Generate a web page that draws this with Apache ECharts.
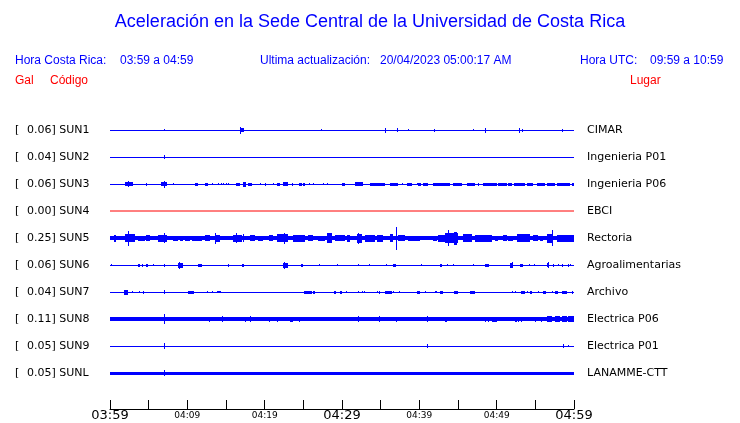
<!DOCTYPE html>
<html>
<head>
<meta charset="utf-8">
<script src="https://cdn.jsdelivr.net/npm/echarts@6/dist/echarts.min.js"></script>
<style>html,body{margin:0;padding:0;background:#fff}#c{width:740px;height:423px}</style>
</head>
<body>
<div id="c"></div>
<script>
// ---------------- DATA ----------------
const CODES  = ['SUN1','SUN2','SUN3','SUN4','SUN5','SUN6','SUN7','SUN8','SUN9','SUNL'];
const PEAKS  = ['0.06','0.04','0.06','0.00','0.25','0.06','0.04','0.11','0.05','0.05'];
const PLACES = ['CIMAR','Ingenieria P01','Ingenieria P06','EBCI','Rectoria','Agroalimentarias','Archivo','Electrica P06','Electrica P01','LANAMME-CTT'];
// background (noise) half-amplitude of each trace, relative units
const NOISE  = [0.5,0.5,0.5,0.5,2,0.5,0.5,2,0.5,1.5];
// time axis (minutes after 03:59)
const TICK_MINUTES = [0,10,20,30,40,50,60];
const TICK_TEXT    = ['03:59','04:09','04:19','04:29','04:39','04:49','04:59'];
const BIG_TICKS    = [0,30,60];
// bursts: [start minute, end minute, half-amplitude (relative units)]
const SUN1 = [[6.98,6.98,1],[16.81,16.81,3.5],[16.81,17.33,2],[27.28,27.28,1],[35.56,35.56,2.5],[37.11,37.11,2],[38.53,38.53,1],
  [41.90,41.90,1.5],[46.94,46.94,1],[48.49,48.49,2.5],[52.89,52.89,2.5],[53.28,53.41,1.5],[58.45,58.45,1.5]];
const SUN2 = [[6.98,7.11,2]];
const SUN3 = [[1.94,2.97,2],[2.33,2.45,3],[4.66,4.66,1.5],[6.59,7.37,2],[6.98,6.98,3.5],[8.15,8.15,1],[10.99,11.38,1.5],[12.28,12.67,1.5],
  [13.19,13.19,1],[13.97,13.97,1],[14.35,14.35,1],[14.61,14.61,1],[15.00,15.00,1],[15.26,15.26,1],[16.29,16.81,1.5],[17.20,17.59,2.5],
  [17.84,18.36,1.5],[19.40,19.40,1],[20.04,20.04,1.5],[21.08,21.08,1],[21.59,21.98,1.5],[22.37,23.02,2],[23.53,23.53,1.5],[24.44,24.83,1.5],
  [24.96,25.22,1.5],[25.73,25.73,1],[26.25,26.25,1],[27.54,27.54,1],[28.06,28.06,1],[30.00,30.39,1.5],[31.68,32.72,2],[33.62,35.56,1.5],
  [36.21,37.24,1.5],[37.76,37.76,1],[38.40,39.05,1.5],[39.70,39.70,1],[39.83,40.22,1.5],[40.47,41.12,1.5],[41.77,43.97,1.5],[44.35,45.52,1.5],
  [46.16,47.20,1.5],[47.59,47.59,1.5],[48.23,50.04,1.5],[50.17,51.34,1.5],[51.47,51.98,1.5],[52.24,53.66,1.5],[53.92,54.70,1.5],
  [55.22,56.25,1.5],[56.51,57.54,1.5],[57.80,59.48,1.5],[59.74,60,1.5]];
const SUN4 = [];
const SUN5 = [[0.52,0.78,3.5],[1.94,3.23,4],[2.33,2.33,7.5],[3.62,4.53,2.5],[4.66,5.17,3],[6.21,7.37,3.5],[6.98,6.98,5],[8.15,8.79,2.5],
  [9.05,9.44,2.5],[9.70,10.34,2.5],[10.60,11.90,2.5],[12.28,12.93,3],[13.58,14.22,3.5],[13.58,13.58,5.5],[15.90,17.07,3.5],[16.29,16.29,5],
  [17.20,17.20,4],[18.10,18.75,3],[19.14,19.78,2.5],[20.56,21.08,3],[21.59,23.02,4],[22.50,22.50,5.5],[23.66,25.22,3.5],[25.60,26.25,3],
  [26.90,27.80,2.5],[28.06,28.71,5],[29.09,30.39,3],[30.65,31.03,3.5],[31.94,32.59,4.5],[32.07,32.07,5.5],[32.97,34.27,3.5],[34.53,35.30,3.5],
  [36.21,36.59,4],[36.98,36.98,11.5],[37.24,38.14,3],[38.53,39.70,2.5],[39.44,40.09,2.5],[40.34,40.99,2],[41.77,42.28,2.5],[42.41,43.32,3.5],
  [43.32,45.00,5],[43.71,43.71,8],[44.48,44.87,6.5],[45.65,46.81,4],[47.20,49.40,3.5],[49.78,50.17,2.5],[50.82,51.34,3],[51.47,52.11,2.5],
  [52.63,54.31,4],[54.70,55.34,3],[55.60,55.99,2.5],[56.51,57.28,4.5],[57.16,57.16,8],[57.80,60,3.5]];
const SUN6 = [[0.13,0.13,1],[3.62,3.88,1.5],[4.14,4.14,1.5],[4.66,4.91,1.5],[5.56,5.56,1],[6.98,6.98,1.5],[8.79,9.44,2.5],[8.92,8.92,3.5],
  [11.38,11.90,1.5],[15.26,15.26,1.5],[17.07,17.33,1.5],[22.37,23.02,2.5],[22.50,22.50,3.5],[24.70,24.96,1.5],[27.03,27.03,1],[29.35,29.35,1],
  [32.07,32.07,1],[33.49,33.49,1],[35.69,35.69,1],[36.59,36.98,1.5],[40.22,40.22,1],[42.67,42.93,1.5],[43.58,43.58,1],[44.35,44.35,1],
  [46.94,46.94,1],[48.49,49.01,1.5],[51.72,52.11,2.5],[51.98,51.98,3],[53.02,53.41,1.5],[54.18,54.18,1],[54.83,54.83,1],[56.51,56.64,2],
  [56.64,56.64,3],[57.28,57.28,1.5],[57.93,57.93,1],[58.45,58.45,1.5],[59.22,59.22,1.5],[59.48,59.48,1]];
const SUN7 = [[1.81,2.33,2.5],[2.84,2.84,1],[3.75,3.75,1],[4.27,4.40,1.5],[6.98,6.98,2],[10.09,10.86,1.5],[12.54,12.54,1],[13.19,13.19,1],
  [13.84,14.35,1],[25.09,26.12,1.5],[26.25,26.51,1.5],[28.97,29.22,1.5],[29.74,30.00,1.5],[30.52,30.52,1],[32.07,32.07,1],[32.59,32.59,1],
  [32.84,32.84,1],[34.53,34.53,1],[34.78,34.78,1.5],[35.56,36.47,1.5],[36.59,36.59,1],[37.37,37.37,1],[39.70,40.09,1.5],[40.73,40.73,1],
  [42.03,42.28,1],[42.67,43.06,1.5],[44.48,45.00,1.5],[46.55,47.20,1.5],[51.98,51.98,1],[52.37,52.37,1],[53.15,53.66,1.5],[53.92,53.92,1],
  [54.31,54.57,1.5],[55.34,55.34,1],[55.99,56.38,1.5],[57.16,57.16,1],[57.54,57.93,1.5],[58.45,59.10,1.5],[59.74,59.74,1.5]];
const SUN8 = [[6.98,6.98,5],[12.80,12.80,2.5],[14.48,14.48,3],[17.46,17.46,2.5],[18.10,18.10,3],[20.56,20.56,2.5],[21.59,21.59,2.5],
  [23.28,23.66,2.5],[24.44,24.44,2.5],[25.60,25.60,2],[32.07,32.07,3],[34.78,34.78,3],[36.98,36.98,2.5],[40.99,40.99,3],[43.32,43.58,2.5],
  [46.81,46.81,1.5],[48.49,48.49,2.5],[48.88,48.88,2.5],[49.40,50.04,2.5],[50.43,50.43,2],[52.37,52.63,2.5],[52.76,52.76,2.5],
  [53.15,53.15,2.5],[54.05,54.05,2],[54.96,54.96,2.5],[55.73,55.73,2.5],[56.51,57.16,3],[57.54,58.19,3],[58.45,59.10,3],[59.22,60,3]];
const SUN9 = [[6.98,6.98,3],[40.99,40.99,2],[58.58,58.71,2],[59.22,59.22,1]];
const SUNL = [[6.98,6.98,3],[41.38,41.38,1.5]];
const EVENTS = [SUN1,SUN2,SUN3,SUN4,SUN5,SUN6,SUN7,SUN8,SUN9,SUNL];

// ---------------- STYLE ----------------
const TRACE_COLORS = ['#0000ff','#0000ff','#0000ff','#ff0000','#0000ff','#0000ff','#0000ff','#0000ff','#0000ff','#0000ff'];
const AMP_UNIT = 1/27;   // relative amplitude unit -> trace spacing units
const BLUE = '#0000ff', RED = '#ff0000';

const chart = echarts.init(document.getElementById('c'), null, {renderer:'canvas'});

function makeRender(color){
  return function(params, api){
    const t = api.value(3);
    const s = api.coord([api.value(0), t]);
    const e = api.coord([api.value(1), t]);
    const h = Math.abs(api.size([0, api.value(2)*AMP_UNIT])[1]);
    const x0 = Math.round(s[0] + 0.01);
    const x1 = Math.max(x0+1, Math.round(e[0] + 0.01));
    const y0 = Math.round(s[1] - h + 0.01);
    const y1 = Math.max(y0+1, Math.round(s[1] + h + 0.01));
    return {type:'rect', shape:{x:x0, y:y0, width:x1-x0, height:y1-y0}, style:{fill: color}};
  };
}

const series = [];
CODES.forEach((code, i) => {
  if (EVENTS[i].length === 0) {
    // flat (no signal) trace: a plain line through the library's line series
    series.push({
      type:'line', name:code, data:[[0, i], [60, i]], symbol:'none', silent:true, z:10,
      lineStyle:{color: TRACE_COLORS[i], width:1}, itemStyle:{color: TRACE_COLORS[i]}
    });
    return;
  }
  const data = [[0, 60, NOISE[i], i]].concat(EVENTS[i].map(ev => [ev[0], ev[1], ev[2], i]));
  series.push({
    type:'custom', name:code, coordinateSystem:'cartesian2d', renderItem: makeRender(TRACE_COLORS[i]),
    itemStyle:{color: TRACE_COLORS[i]}, data: data, clip:false, silent:true,
    encode:{x:[0,1], y:3}
  });
});

function tickLabel(v){
  const k = TICK_MINUTES.indexOf(v);
  if (k < 0) return '';
  return (BIG_TICKS.indexOf(v) >= 0 ? '{big|' : '{small|') + TICK_TEXT[k] + '}';
}

const yCommon = {
  type:'value', min:-1, max:31/3, interval:1, inverse:true,
  axisLine:{show:false, onZero:false}, axisTick:{show:false}, splitLine:{show:false}
};

chart.setOption({
  animation:false,
  backgroundColor:'#ffffff',
  grid:{left:110, right:166, top:103, bottom:14, containLabel:false},
  xAxis:{
    type:'value', min:0, max:60, interval:5, position:'bottom',
    axisLine:{show:true, onZero:false, lineStyle:{color:'#000', width:1}},
    axisTick:{show:true, inside:true, length:9, lineStyle:{color:'#000'}},
    splitLine:{show:false},
    axisLabel:{
      show:true, margin:0, formatter: tickLabel, color:'#000',
      showMinLabel:true, showMaxLabel:true, hideOverlap:false,
      rich:{
        big:{fontSize:13, fontFamily:'DejaVu Sans', color:'#000', lineHeight:14},
        small:{fontSize:9, fontFamily:'DejaVu Sans', color:'#000', lineHeight:14}
      }
    }
  },
  yAxis:[
    Object.assign({}, yCommon, {position:'left', axisLabel:{
      show:true, align:'left', margin:95, color:'#000', fontFamily:'DejaVu Sans', fontSize:11,
      formatter: v => (Math.abs(v - Math.round(v)) < 1e-6 && Math.round(v)>=0 && Math.round(v)<CODES.length) ? '{b|[}' + PEAKS[Math.round(v)] + '] ' + CODES[Math.round(v)] : '',
      rich:{b:{width:12, fontFamily:'DejaVu Sans', fontSize:11, color:'#000'}}
    }}),
    Object.assign({}, yCommon, {position:'right', axisLabel:{
      show:true, align:'left', margin:13, color:'#000', fontFamily:'DejaVu Sans', fontSize:11,
      formatter: v => (Math.abs(v - Math.round(v)) < 1e-6 && Math.round(v)>=0 && Math.round(v)<PLACES.length) ? PLACES[Math.round(v)] : ''
    }})
  ],
  graphic:[
    {type:'text', x:370, y:22, style:{text:'Aceleración en la Sede Central de la Universidad de Costa Rica', fill:BLUE,
      font:'18px "Liberation Sans", Arial, sans-serif', align:'center', verticalAlign:'middle'}},
    {type:'text', x:15, y:61, style:{text:'Hora Costa Rica:', fill:BLUE, font:'12px "Liberation Sans", Arial, sans-serif', verticalAlign:'middle'}},
    {type:'text', x:120, y:61, style:{text:'03:59 a 04:59', fill:BLUE, font:'12px "Liberation Sans", Arial, sans-serif', verticalAlign:'middle'}},
    {type:'text', x:260, y:61, style:{text:'Ultima actualización:', fill:BLUE, font:'12px "Liberation Sans", Arial, sans-serif', verticalAlign:'middle'}},
    {type:'text', x:380, y:61, style:{text:'20/04/2023 05:00:17 AM', fill:BLUE, font:'12px "Liberation Sans", Arial, sans-serif', verticalAlign:'middle'}},
    {type:'text', x:580, y:61, style:{text:'Hora UTC:', fill:BLUE, font:'12px "Liberation Sans", Arial, sans-serif', verticalAlign:'middle'}},
    {type:'text', x:650, y:61, style:{text:'09:59 a 10:59', fill:BLUE, font:'12px "Liberation Sans", Arial, sans-serif', verticalAlign:'middle'}},
    {type:'text', x:15, y:81, style:{text:'Gal', fill:RED, font:'12px "Liberation Sans", Arial, sans-serif', verticalAlign:'middle'}},
    {type:'text', x:50, y:81, style:{text:'Código', fill:RED, font:'12px "Liberation Sans", Arial, sans-serif', verticalAlign:'middle'}},
    {type:'text', x:630, y:81, style:{text:'Lugar', fill:RED, font:'12px "Liberation Sans", Arial, sans-serif', verticalAlign:'middle'}}
  ],
  series: series
});
</script>
</body>
</html>
